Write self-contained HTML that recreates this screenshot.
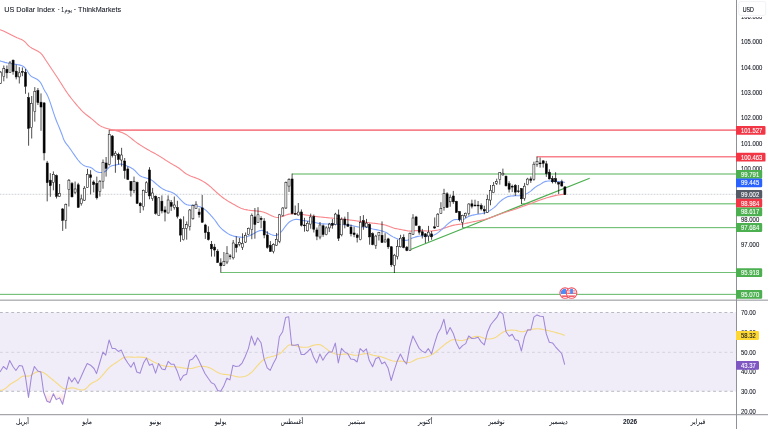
<!DOCTYPE html>
<html lang="ar"><head><meta charset="utf-8"><title>US Dollar Index</title>
<style>
html,body{margin:0;padding:0;background:#fff;}
body{width:768px;height:429px;overflow:hidden;position:relative;font-family:"Liberation Sans","DejaVu Sans",sans-serif;}
svg{position:absolute;left:0;top:0;display:block;}
text{font-family:"Liberation Sans","DejaVu Sans",sans-serif;}
.ax{font-size:6.5px;fill:#131722;stroke:#131722;stroke-width:0.08px;}
.tm{font-size:7.1px;fill:#131722;text-anchor:middle;stroke:#131722;stroke-width:0.06px;}
</style></head><body>
<svg width="768" height="429" viewBox="0 0 768 429">
<defs><linearGradient id="os" gradientUnits="userSpaceOnUse" x1="0" y1="391.3" x2="0" y2="406"><stop offset="0" stop-color="#ffffff"/><stop offset="1" stop-color="#fcd2cf"/></linearGradient><clipPath id="below30"><rect x="0" y="391.3" width="736" height="23"/></clipPath><clipPath id="fl"><circle cx="0" cy="0" r="4.4"/></clipPath></defs>
<rect width="768" height="429" fill="#fff"/>
<g id="rsi">
<rect x="0" y="312.5" width="736" height="78.8" fill="#f0edf9"/>
<polygon clip-path="url(#below30)" fill="url(#os)" points="0,391.3 0,371.9 3.4,366.5 6.7,369.4 9.7,360.5 13.1,366.8 15.9,370.5 19.3,365.5 22.3,366 25.2,375.2 28.5,397.4 31.5,376.1 34.4,366.5 37.8,371 40.8,371.9 43.6,392 47,401.2 50,402.4 53.4,393.7 56.2,399.6 59.6,397.9 62.6,404.3 65.4,392 68.8,376.9 71.8,381.9 74.7,377.8 78,383.6 81,377 84.1,370 87.2,363.5 90.6,365.2 94,368.5 96.5,373.6 99.8,362.5 102.9,352.1 105.7,355.1 109.1,340 112.1,348.4 114.9,348.4 118.3,351.4 121.3,350.1 124.7,358.1 127.8,363 130.9,367.3 133.9,362.3 136.8,372 140.1,373.2 143.5,363.1 146.5,358.1 149.4,365.3 152.4,363.9 155.6,373.2 158.6,363.6 161.9,369 165,369.8 168.2,361.4 171.2,364.3 174,364.3 177,370.7 180.4,380.4 183.4,375.4 186.6,374.3 189.6,360.3 192.7,358.9 195.8,355 198.9,360.6 202,367.3 205.1,373.7 208.2,378.3 211.4,382.7 214.3,384.1 217.7,390.5 220.7,391.3 223.5,386.6 226.9,378.2 229.9,379.9 232.9,365.3 235.8,366.5 239.1,366 242.1,363.1 245,357 248.4,348.6 251.4,336 254.8,345.2 257.6,337.7 261,342.7 264,358.7 267.2,367.9 270.2,370.4 273.2,363.7 276.4,357.8 279.4,336.8 282.6,331.8 285.6,317.6 288.7,316.7 291.7,345.2 294.9,345.2 298.1,344.4 301.2,354.5 304.3,354.5 307.4,351.9 310.5,348.6 313.5,357 316.7,362.9 319.9,354 322.9,360.3 325.9,355.3 328.9,351.9 332.1,351.9 335.3,343.1 338.3,362.9 341.5,348.3 344.5,351.9 347.7,353.6 350.7,359 354.1,359.5 357.1,362 360.1,348.6 363.4,351.6 366.4,348.9 369.2,360.3 372.6,366.7 375.6,358.7 378.8,357.3 381.8,363.7 384.8,362 388,367.9 391.2,380.5 394.2,370.4 397.2,361.2 400.4,354 403.6,360.3 406.6,364 409.7,346.9 412.9,336 415.9,341.9 419.1,348.3 422.1,351.1 425.3,352.8 428.3,348.6 431.5,354 434.5,343.6 437.7,333.5 440.7,328.5 443.9,319.2 446.9,334.3 450.1,327.6 453.3,333.5 456.3,342.7 459.5,348.9 462.5,345.6 465.7,343.6 468.7,336 471.9,338.5 474.9,338.2 478.1,337.3 481.1,341.9 484.3,344.9 487.6,331.7 490.6,325 493.8,320.8 496.8,317.4 499.8,311.6 503,314.1 506,331.7 509.2,336.2 512.2,334.2 515.2,339.7 518.4,340.6 521.4,351 524.6,336.7 527.7,329.7 530.8,330 533.9,317.1 537,314.9 540.1,316.2 543.3,316.6 546.3,333.9 549.3,342.3 552.5,342.9 555.5,346.8 558.5,350.1 561.7,353.5 564.7,364.7 565,391.3"/>
<line x1="0" y1="312.5" x2="736" y2="312.5" stroke="#8c8f99" stroke-width="0.6" stroke-dasharray="2.8 2.86"/>
<line x1="0" y1="352.3" x2="736" y2="352.3" stroke="#bfc0c9" stroke-width="0.6" stroke-dasharray="2.8 2.86"/>
<line x1="0" y1="391.3" x2="736" y2="391.3" stroke="#8c8f99" stroke-width="0.6" stroke-dasharray="2.8 2.86"/>
<polyline fill="none" stroke="#f6da84" stroke-width="1.15" stroke-linejoin="round" points="0,390.3 1,390.3 2,390.11 3,389.76 4,389.27 5,388.7 6,387.99 7,387.14 8,386.22 9,385.31 10,384.5 11,383.8 12,383.16 13,382.57 14,381.99 15,381.41 16,380.81 17,380.17 18,379.43 19,378.64 20,377.85 21,377.14 22,376.56 23,376.19 24,376.06 25,376.05 26,376.09 27,376.13 28,376.13 29,376.02 30,375.68 31,375.17 32,374.56 33,373.94 34,373.38 35,372.83 36,372.3 37,371.87 38,371.58 39,371.49 40,371.56 41,371.75 42,372.05 43,372.44 44,372.89 45,373.48 46,374.2 47,374.99 48,375.84 49,376.71 50,377.55 51,378.37 52,379.19 53,380.01 54,380.84 55,381.66 56,382.48 57,383.3 58,384.15 59,385.04 60,385.92 61,386.77 62,387.54 63,388.19 64,388.67 65,388.95 66,389.01 67,388.9 68,388.68 69,388.41 70,388.14 71,387.92 72,387.8 73,387.84 74,388.01 75,388.27 76,388.6 77,388.94 78,389.26 79,389.52 80,389.73 81,389.88 82,389.96 83,389.94 84,389.78 85,389.33 86,388.56 87,387.59 88,386.52 89,385.45 90,384.48 91,383.72 92,383.1 93,382.57 94,382.09 95,381.61 96,381.1 97,380.5 98,379.78 99,378.94 100,377.99 101,376.96 102,375.87 103,374.74 104,373.6 105,372.42 106,371.19 107,369.98 108,368.83 109,367.79 110,366.89 111,366.08 112,365.33 113,364.63 114,363.97 115,363.33 116,362.7 117,362.06 118,361.39 119,360.66 120,359.9 121,359.16 122,358.48 123,357.9 124,357.46 125,357.2 126,357.08 127,357.01 128,356.99 129,357 130,357.04 131,357.09 132,357.14 133,357.19 134,357.21 135,357.22 136,357.21 137,357.19 138,357.18 139,357.17 140,357.17 141,357.19 142,357.23 143,357.31 144,357.41 145,357.56 146,357.8 147,358.16 148,358.64 149,359.19 150,359.79 151,360.41 152,361.02 153,361.59 154,362.1 155,362.58 156,363.04 157,363.5 158,363.93 159,364.33 160,364.71 161,365.06 162,365.37 163,365.64 164,365.87 165,366.05 166,366.19 167,366.31 168,366.4 169,366.47 170,366.54 171,366.59 172,366.65 173,366.7 174,366.76 175,366.82 176,366.9 177,367 178,367.12 179,367.26 180,367.41 181,367.57 182,367.74 183,367.91 184,368.06 185,368.21 186,368.33 187,368.43 188,368.5 189,368.53 190,368.52 191,368.46 192,368.32 193,368.1 194,367.84 195,367.55 196,367.25 197,366.96 198,366.7 199,366.49 200,366.34 201,366.28 202,366.28 203,366.33 204,366.44 205,366.6 206,366.8 207,367.04 208,367.32 209,367.63 210,368.02 211,368.5 212,369.04 213,369.62 214,370.24 215,370.87 216,371.49 217,372.07 218,372.62 219,373.09 220,373.49 221,373.78 222,374 223,374.17 224,374.31 225,374.43 226,374.53 227,374.63 228,374.75 229,374.88 230,375.06 231,375.27 232,375.5 233,375.75 234,376 235,376.25 236,376.48 237,376.68 238,376.84 239,376.95 240,377 241,376.98 242,376.9 243,376.75 244,376.55 245,376.3 246,375.96 247,375.5 248,374.92 249,374.26 250,373.51 251,372.7 252,371.83 253,370.84 254,369.73 255,368.56 256,367.36 257,366.17 258,365.03 259,363.98 260,362.95 261,361.96 262,361.03 263,360.18 264,359.43 265,358.81 266,358.31 267,357.9 268,357.56 269,357.26 270,357 271,356.76 272,356.52 273,356.26 274,355.99 275,355.69 276,355.38 277,355.02 278,354.6 279,354.1 280,353.5 281,352.76 282,351.82 283,350.76 284,349.66 285,348.6 286,347.59 287,346.57 288,345.68 289,345.06 290,344.82 291,344.78 292,344.85 293,345.02 294,345.25 295,345.5 296,345.76 297,346.04 298,346.34 299,346.62 300,346.88 301,347.07 302,347.19 303,347.25 304,347.28 305,347.29 306,347.27 307,347.21 308,347.07 309,346.82 310,346.48 311,346.11 312,345.74 313,345.41 314,345.16 315,344.95 316,344.78 317,344.66 318,344.6 319,344.63 320,344.75 321,345.1 322,345.65 323,346.33 324,347.09 325,347.86 326,348.59 327,349.33 328,350.09 329,350.82 330,351.5 331,352.1 332,352.58 333,353.03 334,353.43 335,353.78 336,354.08 337,354.3 338,354.44 339,354.5 340,354.49 341,354.43 342,354.35 343,354.25 344,354.15 345,354.06 346,354.01 347,353.99 348,354.04 349,354.16 350,354.34 351,354.55 352,354.78 353,354.99 354,355.16 355,355.27 356,355.3 357,355.24 358,355.11 359,354.92 360,354.7 361,354.46 362,354.22 363,354 364,353.81 365,353.67 366,353.6 367,353.62 368,353.74 369,353.97 370,354.25 371,354.58 372,354.9 373,355.2 374,355.44 375,355.65 376,355.84 377,356.02 378,356.19 379,356.38 380,356.57 381,356.8 382,357.06 383,357.37 384,357.73 385,358.12 386,358.52 387,358.93 388,359.32 389,359.68 390,360.04 391,360.4 392,360.72 393,360.99 394,361.19 395,361.29 396,361.31 397,361.29 398,361.24 399,361.2 400,361.16 401,361.16 402,361.2 403,361.33 404,361.56 405,361.84 406,362.12 407,362.35 408,362.48 409,362.48 410,362.3 411,361.96 412,361.51 413,360.99 414,360.44 415,359.89 416,359.4 417,359 418,358.69 419,358.44 420,358.23 421,358.04 422,357.86 423,357.67 424,357.45 425,357.21 426,356.94 427,356.64 428,356.31 429,355.94 430,355.52 431,355.06 432,354.55 433,353.97 434,353.3 435,352.56 436,351.78 437,350.96 438,350.14 439,349.32 440,348.49 441,347.65 442,346.8 443,345.95 444,345.12 445,344.31 446,343.55 447,342.84 448,342.16 449,341.48 450,340.85 451,340.32 452,339.92 453,339.71 454,339.67 455,339.73 456,339.85 457,340.01 458,340.19 459,340.35 460,340.46 461,340.5 462,340.45 463,340.31 464,340.11 465,339.84 466,339.54 467,339.21 468,338.87 469,338.53 470,338.19 471,337.83 472,337.47 473,337.12 474,336.81 475,336.56 476,336.38 477,336.3 478,336.34 479,336.5 480,336.77 481,337.11 482,337.48 483,337.87 484,338.24 485,338.56 486,338.8 487,338.93 488,338.99 489,338.98 490,338.91 491,338.78 492,338.58 493,338.33 494,338.02 495,337.64 496,337.15 497,336.5 498,335.74 499,334.93 500,334.13 501,333.4 502,332.79 503,332.24 504,331.73 505,331.27 506,330.88 507,330.57 508,330.36 509,330.26 510,330.19 511,330.15 512,330.14 513,330.15 514,330.2 515,330.28 516,330.42 517,330.65 518,330.93 519,331.21 520,331.47 521,331.64 522,331.7 523,331.62 524,331.42 525,331.15 526,330.83 527,330.49 528,330.18 529,329.93 530,329.7 531,329.5 532,329.31 533,329.15 534,329.01 535,328.9 536,328.83 537,328.79 538,328.78 539,328.82 540,328.91 541,329.06 542,329.24 543,329.46 544,329.69 545,329.91 546,330.13 547,330.35 548,330.58 549,330.81 550,331.05 551,331.3 552,331.54 553,331.8 554,332.05 555,332.31 556,332.58 557,332.85 558,333.14 559,333.43 560,333.74 561,334.06 562,334.4 563,334.76 564,335.13 564.7,335.4"/>
<polyline fill="none" stroke="#a188d8" stroke-width="1.05" stroke-linejoin="round" points="0,371.9 3.4,366.5 6.7,369.4 9.7,360.5 13.1,366.8 15.9,370.5 19.3,365.5 22.3,366 25.2,375.2 28.5,397.4 31.5,376.1 34.4,366.5 37.8,371 40.8,371.9 43.6,392 47,401.2 50,402.4 53.4,393.7 56.2,399.6 59.6,397.9 62.6,404.3 65.4,392 68.8,376.9 71.8,381.9 74.7,377.8 78,383.6 81,377 84.1,370 87.2,363.5 90.6,365.2 94,368.5 96.5,373.6 99.8,362.5 102.9,352.1 105.7,355.1 109.1,340 112.1,348.4 114.9,348.4 118.3,351.4 121.3,350.1 124.7,358.1 127.8,363 130.9,367.3 133.9,362.3 136.8,372 140.1,373.2 143.5,363.1 146.5,358.1 149.4,365.3 152.4,363.9 155.6,373.2 158.6,363.6 161.9,369 165,369.8 168.2,361.4 171.2,364.3 174,364.3 177,370.7 180.4,380.4 183.4,375.4 186.6,374.3 189.6,360.3 192.7,358.9 195.8,355 198.9,360.6 202,367.3 205.1,373.7 208.2,378.3 211.4,382.7 214.3,384.1 217.7,390.5 220.7,391.3 223.5,386.6 226.9,378.2 229.9,379.9 232.9,365.3 235.8,366.5 239.1,366 242.1,363.1 245,357 248.4,348.6 251.4,336 254.8,345.2 257.6,337.7 261,342.7 264,358.7 267.2,367.9 270.2,370.4 273.2,363.7 276.4,357.8 279.4,336.8 282.6,331.8 285.6,317.6 288.7,316.7 291.7,345.2 294.9,345.2 298.1,344.4 301.2,354.5 304.3,354.5 307.4,351.9 310.5,348.6 313.5,357 316.7,362.9 319.9,354 322.9,360.3 325.9,355.3 328.9,351.9 332.1,351.9 335.3,343.1 338.3,362.9 341.5,348.3 344.5,351.9 347.7,353.6 350.7,359 354.1,359.5 357.1,362 360.1,348.6 363.4,351.6 366.4,348.9 369.2,360.3 372.6,366.7 375.6,358.7 378.8,357.3 381.8,363.7 384.8,362 388,367.9 391.2,380.5 394.2,370.4 397.2,361.2 400.4,354 403.6,360.3 406.6,364 409.7,346.9 412.9,336 415.9,341.9 419.1,348.3 422.1,351.1 425.3,352.8 428.3,348.6 431.5,354 434.5,343.6 437.7,333.5 440.7,328.5 443.9,319.2 446.9,334.3 450.1,327.6 453.3,333.5 456.3,342.7 459.5,348.9 462.5,345.6 465.7,343.6 468.7,336 471.9,338.5 474.9,338.2 478.1,337.3 481.1,341.9 484.3,344.9 487.6,331.7 490.6,325 493.8,320.8 496.8,317.4 499.8,311.6 503,314.1 506,331.7 509.2,336.2 512.2,334.2 515.2,339.7 518.4,340.6 521.4,351 524.6,336.7 527.7,329.7 530.8,330 533.9,317.1 537,314.9 540.1,316.2 543.3,316.6 546.3,333.9 549.3,342.3 552.5,342.9 555.5,346.8 558.5,350.1 561.7,353.5 564.7,364.7"/>
</g>
<line x1="0" y1="194.3" x2="736" y2="194.3" stroke="#d9dade" stroke-width="0.5"/><line x1="0" y1="194.3" x2="736" y2="194.3" stroke="#b4b7be" stroke-width="0.5" stroke-dasharray="1 2"/>
<g id="levels">
<line x1="109.4" y1="130.15" x2="736" y2="130.15" stroke="#f8828c" stroke-width="1.6"/>
<line x1="536.6" y1="156.8" x2="736" y2="156.8" stroke="#f8828c" stroke-width="1.6"/>
<line x1="292.1" y1="174" x2="736" y2="174" stroke="#8ccd8f" stroke-width="1.6"/>
<line x1="521.4" y1="203.8" x2="736" y2="203.8" stroke="#8ccd8f" stroke-width="1.6"/>
<line x1="462.6" y1="227.67" x2="736" y2="227.67" stroke="#4caf50" stroke-width="0.9"/>
<line x1="220.5" y1="272.5" x2="736" y2="272.5" stroke="#4caf50" stroke-width="0.8"/>
<line x1="0" y1="294.35" x2="736" y2="294.35" stroke="#4caf50" stroke-width="0.9"/>
<line x1="410" y1="249.8" x2="589.7" y2="178.2" stroke="#4caf50" stroke-width="1.2"/>
</g>
<polyline fill="none" stroke="#f8888d" stroke-width="1.1" stroke-linejoin="round" points="0,29.7 1,30.05 2,30.44 3,30.85 4,31.28 5,31.74 6,32.21 7,32.7 8,33.2 9,33.71 10,34.22 11,34.74 12,35.26 13,35.78 14,36.28 15,36.77 16,37.24 17,37.69 18,38.1 19,38.49 20,38.89 21,39.32 22,39.81 23,40.38 24,41.07 25,41.93 26,42.99 27,44.14 28,45.23 29,46.13 30,46.9 31,47.58 32,48.19 33,48.74 34,49.27 35,49.79 36,50.31 37,50.81 38,51.34 39,51.94 40,52.64 41,53.5 42,54.6 43,55.94 44,57.42 45,58.95 46,60.45 47,61.97 48,63.5 49,65.03 50,66.55 51,68.05 52,69.53 53,71.01 54,72.49 55,73.98 56,75.48 57,77 58,78.55 59,80.12 60,81.71 61,83.3 62,84.89 63,86.46 64,88.02 65,89.57 66,91.08 67,92.54 68,93.95 69,95.32 70,96.66 71,97.97 72,99.25 73,100.5 74,101.73 75,102.94 76,104.14 77,105.32 78,106.49 79,107.63 80,108.74 81,109.82 82,110.86 83,111.84 84,112.77 85,113.65 86,114.48 87,115.27 88,116.05 89,116.8 90,117.56 91,118.33 92,119.12 93,119.94 94,120.8 95,121.68 96,122.55 97,123.4 98,124.21 99,124.95 100,125.61 101,126.17 102,126.67 103,127.11 104,127.51 105,127.86 106,128.18 107,128.48 108,128.76 109,129.03 110,129.28 111,129.52 112,129.74 113,129.97 114,130.19 115,130.43 116,130.68 117,130.94 118,131.23 119,131.54 120,131.87 121,132.22 122,132.61 123,133.02 124,133.48 125,133.98 126,134.53 127,135.15 128,135.83 129,136.57 130,137.35 131,138.16 132,138.98 133,139.79 134,140.6 135,141.38 136,142.12 137,142.83 138,143.53 139,144.21 140,144.87 141,145.52 142,146.16 143,146.78 144,147.39 145,148 146,148.59 147,149.17 148,149.74 149,150.3 150,150.86 151,151.4 152,151.95 153,152.49 154,153.03 155,153.58 156,154.14 157,154.71 158,155.3 159,155.9 160,156.51 161,157.14 162,157.77 163,158.41 164,159.05 165,159.7 166,160.34 167,160.98 168,161.61 169,162.24 170,162.86 171,163.47 172,164.06 173,164.63 174,165.19 175,165.75 176,166.32 177,166.91 178,167.53 179,168.2 180,168.94 181,169.73 182,170.57 183,171.41 184,172.24 185,173.02 186,173.72 187,174.33 188,174.87 189,175.35 190,175.78 191,176.18 192,176.55 193,176.91 194,177.27 195,177.63 196,178.01 197,178.43 198,178.86 199,179.31 200,179.79 201,180.29 202,180.81 203,181.37 204,181.96 205,182.58 206,183.25 207,183.95 208,184.69 209,185.48 210,186.32 211,187.21 212,188.13 213,189.07 214,190.02 215,190.96 216,191.88 217,192.78 218,193.65 219,194.5 220,195.34 221,196.16 222,196.95 223,197.72 224,198.46 225,199.16 226,199.83 227,200.48 228,201.1 229,201.7 230,202.28 231,202.85 232,203.41 233,203.97 234,204.52 235,205.09 236,205.65 237,206.21 238,206.75 239,207.26 240,207.73 241,208.16 242,208.53 243,208.86 244,209.16 245,209.42 246,209.66 247,209.87 248,210.06 249,210.22 250,210.36 251,210.48 252,210.58 253,210.67 254,210.76 255,210.84 256,210.92 257,211.01 258,211.12 259,211.24 260,211.39 261,211.56 262,211.77 263,212.01 264,212.3 265,212.65 266,213.08 267,213.55 268,214.04 269,214.52 270,214.97 271,215.43 272,215.89 273,216.33 274,216.73 275,217.06 276,217.31 277,217.46 278,217.5 279,217.39 280,217.18 281,216.89 282,216.55 283,216.2 284,215.86 285,215.49 286,215.11 287,214.73 288,214.39 289,214.12 290,213.93 291,213.84 292,213.78 293,213.75 294,213.73 295,213.74 296,213.77 297,213.81 298,213.86 299,213.92 300,214.04 301,214.21 302,214.38 303,214.55 304,214.7 305,214.86 306,215.01 307,215.17 308,215.32 309,215.48 310,215.63 311,215.78 312,215.93 313,216.07 314,216.21 315,216.34 316,216.47 317,216.6 318,216.72 319,216.84 320,216.95 321,217.06 322,217.17 323,217.27 324,217.37 325,217.47 326,217.57 327,217.67 328,217.76 329,217.86 330,217.95 331,218.04 332,218.13 333,218.23 334,218.32 335,218.41 336,218.5 337,218.59 338,218.68 339,218.77 340,218.86 341,218.96 342,219.05 343,219.15 344,219.25 345,219.36 346,219.47 347,219.58 348,219.7 349,219.83 350,219.95 351,220.09 352,220.22 353,220.36 354,220.51 355,220.65 356,220.8 357,220.95 358,221.1 359,221.25 360,221.4 361,221.55 362,221.7 363,221.86 364,222.01 365,222.16 366,222.31 367,222.45 368,222.59 369,222.73 370,222.85 371,222.97 372,223.09 373,223.2 374,223.31 375,223.42 376,223.54 377,223.66 378,223.78 379,223.92 380,224.07 381,224.23 382,224.41 383,224.6 384,224.81 385,225.05 386,225.31 387,225.62 388,225.96 389,226.33 390,226.72 391,227.1 392,227.46 393,227.8 394,228.1 395,228.36 396,228.59 397,228.81 398,229.01 399,229.2 400,229.38 401,229.56 402,229.74 403,229.94 404,230.14 405,230.35 406,230.55 407,230.74 408,230.9 409,231.01 410,231.09 411,231.1 412,231.04 413,230.94 414,230.82 415,230.71 416,230.62 417,230.58 418,230.57 419,230.58 420,230.61 421,230.65 422,230.7 423,230.75 424,230.81 425,230.87 426,230.92 427,230.96 428,230.99 429,231 430,230.99 431,230.94 432,230.87 433,230.77 434,230.65 435,230.51 436,230.35 437,230.17 438,229.98 439,229.74 440,229.47 441,229.18 442,228.86 443,228.53 444,228.2 445,227.86 446,227.54 447,227.21 448,226.87 449,226.53 450,226.21 451,225.89 452,225.6 453,225.34 454,225.12 455,224.93 456,224.78 457,224.64 458,224.52 459,224.4 460,224.28 461,224.16 462,224.03 463,223.88 464,223.71 465,223.53 466,223.32 467,223.11 468,222.89 469,222.67 470,222.44 471,222.22 472,222.01 473,221.8 474,221.6 475,221.42 476,221.24 477,221.07 478,220.89 479,220.71 480,220.53 481,220.34 482,220.13 483,219.91 484,219.68 485,219.41 486,219.13 487,218.83 488,218.51 489,218.18 490,217.83 491,217.48 492,217.12 493,216.76 494,216.4 495,216.04 496,215.67 497,215.3 498,214.92 499,214.55 500,214.18 501,213.81 502,213.45 503,213.09 504,212.74 505,212.4 506,212.07 507,211.76 508,211.45 509,211.14 510,210.84 511,210.53 512,210.22 513,209.91 514,209.59 515,209.25 516,208.9 517,208.53 518,208.15 519,207.76 520,207.37 521,207 522,206.65 523,206.31 524,205.98 525,205.64 526,205.3 527,204.94 528,204.57 529,204.19 530,203.81 531,203.42 532,203.03 533,202.64 534,202.25 535,201.87 536,201.5 537,201.13 538,200.77 539,200.42 540,200.07 541,199.73 542,199.39 543,199.06 544,198.73 545,198.41 546,198.09 547,197.78 548,197.47 549,197.18 550,196.9 551,196.63 552,196.36 553,196.1 554,195.85 555,195.61 556,195.39 557,195.19 558,195.01 559,194.86 560,194.72 561,194.6 562,194.49 563,194.41 564,194.34 565,194.3"/>
<polyline fill="none" stroke="#80a4fb" stroke-width="1.1" stroke-linejoin="round" points="0,60.8 1,61.15 2,61.48 3,61.8 4,62.1 5,62.38 6,62.63 7,62.87 8,63.08 9,63.27 10,63.45 11,63.62 12,63.77 13,63.92 14,64.07 15,64.22 16,64.37 17,64.53 18,64.7 19,64.88 20,65.1 21,65.4 22,65.79 23,66.29 24,66.97 25,67.98 26,69.22 27,70.58 28,72.17 29,73.8 30,75.18 31,76.13 32,76.82 33,77.35 34,77.79 35,78.21 36,78.7 37,79.29 38,79.99 39,80.87 40,81.97 41,83.34 42,85.17 43,87.37 44,89.55 45,91.32 46,92.79 47,94.48 48,96.62 49,99.13 50,101.94 51,104.93 52,108.03 53,111.14 54,114.18 55,117.05 56,119.71 57,122.22 58,124.65 59,127.04 60,129.45 61,131.94 62,134.57 63,137.43 64,140 65,141.91 66,143.43 67,144.72 68,145.94 69,147.23 70,148.6 71,150.03 72,151.48 73,152.94 74,154.39 75,155.81 76,157.23 77,158.63 78,159.97 79,161.23 80,162.36 81,163.33 82,164.14 83,164.85 84,165.45 85,165.95 86,166.34 87,166.62 88,166.82 89,167.02 90,167.26 91,167.61 92,168.17 93,168.95 94,169.82 95,170.67 96,171.35 97,171.79 98,172.13 99,172.35 100,172.48 101,172.5 102,172.43 103,172.26 104,171.95 105,171.49 106,170.82 107,169.76 108,168.52 109,167.38 110,166.61 111,166.12 112,165.77 113,165.53 114,165.33 115,165.14 116,164.91 117,164.67 118,164.44 119,164.25 120,164.13 121,164.1 122,164.2 123,164.43 124,164.76 125,165.16 126,165.58 127,166 128,166.41 129,166.85 130,167.32 131,167.83 132,168.41 133,169.06 134,169.8 135,170.7 136,171.75 137,172.86 138,173.95 139,174.93 140,175.7 141,176.27 142,176.72 143,177.08 144,177.38 145,177.64 146,177.91 147,178.2 148,178.52 149,178.87 150,179.28 151,179.77 152,180.38 153,181.14 154,181.99 155,182.88 156,183.76 157,184.59 158,185.41 159,186.21 160,186.99 161,187.73 162,188.42 163,189.05 164,189.61 165,190.09 166,190.49 167,190.83 168,191.14 169,191.43 170,191.73 171,192.06 172,192.44 173,192.9 174,193.46 175,194.16 176,194.97 177,195.86 178,196.89 179,198 180,199.12 181,200.2 182,201.18 183,202.13 184,203.02 185,203.78 186,204.36 187,204.72 188,204.95 189,205.09 190,205.19 191,205.25 192,205.3 193,205.37 194,205.48 195,205.61 196,205.78 197,205.98 198,206.22 199,206.51 200,206.86 201,207.27 202,207.75 203,208.3 204,208.92 205,209.6 206,210.38 207,211.29 208,212.28 209,213.35 210,214.45 211,215.58 212,216.7 213,217.82 214,219 215,220.26 216,221.66 217,223.14 218,224.58 219,225.9 220,227.07 221,228.13 222,229.1 223,229.99 224,230.8 225,231.56 226,232.29 227,232.98 228,233.61 229,234.18 230,234.69 231,235.12 232,235.51 233,235.85 234,236.15 235,236.41 236,236.61 237,236.75 238,236.88 239,236.99 240,237.08 241,237.15 242,237.18 243,237.19 244,237.17 245,237.1 246,236.95 247,236.69 248,236.34 249,235.91 250,235.44 251,234.93 252,234.41 253,233.9 254,233.4 255,232.86 256,232.32 257,231.79 258,231.31 259,230.9 260,230.59 261,230.42 262,230.41 263,230.62 264,231 265,231.5 266,232.05 267,232.6 268,233.09 269,233.57 270,234.03 271,234.46 272,234.84 273,235.15 274,235.35 275,235.44 276,235.4 277,235.13 278,234.59 279,233.85 280,232.97 281,232 282,230.89 283,229.61 284,228.24 285,226.89 286,225.63 287,224.4 288,223.25 289,222.28 290,221.57 291,220.98 292,220.48 293,220.07 294,219.76 295,219.55 296,219.42 297,219.4 298,219.46 299,219.6 300,219.78 301,219.99 302,220.21 303,220.42 304,220.6 305,220.74 306,220.87 307,220.99 308,221.12 309,221.26 310,221.44 311,221.63 312,221.85 313,222.08 314,222.31 315,222.55 316,222.78 317,223 318,223.21 319,223.39 320,223.55 321,223.68 322,223.77 323,223.85 324,223.91 325,223.96 326,224 327,224.03 328,224.06 329,224.08 330,224.11 331,224.14 332,224.17 333,224.19 334,224.22 335,224.25 336,224.29 337,224.32 338,224.36 339,224.4 340,224.44 341,224.49 342,224.54 343,224.6 344,224.67 345,224.74 346,224.83 347,224.94 348,225.05 349,225.17 350,225.31 351,225.46 352,225.62 353,225.8 354,226 355,226.24 356,226.48 357,226.71 358,226.9 359,227.04 360,227.1 361,227.09 362,227.06 363,227.02 364,226.99 365,227.02 366,227.12 367,227.3 368,227.54 369,227.82 370,228.12 371,228.43 372,228.73 373,229 374,229.24 375,229.46 376,229.66 377,229.86 378,230.06 379,230.27 380,230.49 381,230.73 382,231 383,231.3 384,231.65 385,232.04 386,232.49 387,233.05 388,233.68 389,234.36 390,235.06 391,235.72 392,236.33 393,236.87 394,237.37 395,237.84 396,238.27 397,238.64 398,238.97 399,239.26 400,239.53 401,239.78 402,240 403,240.18 404,240.3 405,240.35 406,240.34 407,240.23 408,239.95 409,239.55 410,239.08 411,238.61 412,238.18 413,237.81 414,237.47 415,237.15 416,236.86 417,236.6 418,236.38 419,236.2 420,236.06 421,235.97 422,235.91 423,235.88 424,235.86 425,235.85 426,235.85 427,235.84 428,235.81 429,235.77 430,235.7 431,235.59 432,235.44 433,235.25 434,234.96 435,234.54 436,233.99 437,233.34 438,232.62 439,231.84 440,231.02 441,230.19 442,229.37 443,228.49 444,227.55 445,226.6 446,225.64 447,224.69 448,223.79 449,222.95 450,222.2 451,221.49 452,220.82 453,220.25 454,219.82 455,219.6 456,219.54 457,219.54 458,219.58 459,219.63 460,219.68 461,219.69 462,219.65 463,219.51 464,219.16 465,218.63 466,218.02 467,217.38 468,216.79 469,216.32 470,215.94 471,215.61 472,215.33 473,215.09 474,214.88 475,214.69 476,214.51 477,214.33 478,214.16 479,214 480,213.84 481,213.68 482,213.5 483,213.29 484,213.06 485,212.79 486,212.46 487,212.07 488,211.6 489,211.07 490,210.48 491,209.83 492,209.13 493,208.38 494,207.6 495,206.74 496,205.79 497,204.77 498,203.73 499,202.7 500,201.72 501,200.8 502,200 503,199.28 504,198.61 505,197.99 506,197.44 507,196.98 508,196.6 509,196.34 510,196.17 511,196.04 512,195.95 513,195.89 514,195.85 515,195.82 516,195.79 517,195.77 518,195.73 519,195.68 520,195.6 521,195.49 522,195.31 523,195.07 524,194.76 525,194.38 526,193.94 527,193.44 528,192.89 529,192.29 530,191.62 531,190.84 532,189.98 533,189.09 534,188.22 535,187.41 536,186.7 537,186.1 538,185.57 539,185.06 540,184.52 541,183.89 542,183.18 543,182.51 544,181.96 545,181.61 546,181.36 547,181.18 548,181.07 549,181.01 550,181 551,181.02 552,181.05 553,181.11 554,181.17 555,181.24 556,181.32 557,181.4 558,181.49 559,181.59 560,181.7 561,181.82 562,181.95 563,182.09 564,182.24 565,182.4"/>
<g id="wicks" stroke="#000" stroke-width="0.7"><line x1="0.7" y1="71" x2="0.7" y2="72.2"/><line x1="0.7" y1="83.2" x2="0.7" y2="84"/><line x1="3.8" y1="65.5" x2="3.8" y2="68.7"/><line x1="3.8" y1="76.6" x2="3.8" y2="81.3"/><line x1="6.9" y1="65.5" x2="6.9" y2="69.3"/><line x1="6.9" y1="72.8" x2="6.9" y2="78.4"/><line x1="10" y1="61.1" x2="10" y2="63"/><line x1="10" y1="72.5" x2="10" y2="73"/><line x1="13.1" y1="59.5" x2="13.1" y2="60.2"/><line x1="13.1" y1="71.5" x2="13.1" y2="74.7"/><line x1="16.2" y1="64.6" x2="16.2" y2="71.2"/><line x1="16.2" y1="76.9" x2="16.2" y2="79.4"/><line x1="19.3" y1="67.1" x2="19.3" y2="72.8"/><line x1="19.3" y1="76.9" x2="19.3" y2="83.5"/><line x1="22.4" y1="67.4" x2="22.4" y2="71.5"/><line x1="22.4" y1="72.3" x2="22.4" y2="76.2"/><line x1="25.5" y1="69" x2="25.5" y2="72.2"/><line x1="25.5" y1="86.3" x2="25.5" y2="93.8"/><line x1="28.6" y1="92.6" x2="28.6" y2="97.6"/><line x1="28.6" y1="128.3" x2="28.6" y2="145.7"/><line x1="31.7" y1="96" x2="31.7" y2="103.5"/><line x1="31.7" y1="127.5" x2="31.7" y2="138.5"/><line x1="34.8" y1="87.1" x2="34.8" y2="91.3"/><line x1="34.8" y1="111.5" x2="34.8" y2="121.6"/><line x1="37.9" y1="88" x2="37.9" y2="90.5"/><line x1="37.9" y1="102.6" x2="37.9" y2="105"/><line x1="41" y1="93.4" x2="41" y2="102.2"/><line x1="41" y1="107" x2="41" y2="130.8"/><line x1="44.1" y1="102" x2="44.1" y2="103"/><line x1="44.1" y1="152.9" x2="44.1" y2="160.4"/><line x1="47.2" y1="160.9" x2="47.2" y2="163"/><line x1="47.2" y1="182.7" x2="47.2" y2="201.4"/><line x1="50.3" y1="173.1" x2="50.3" y2="180.2"/><line x1="50.3" y1="185.7" x2="50.3" y2="196.8"/><line x1="53.4" y1="171.4" x2="53.4" y2="174.4"/><line x1="53.4" y1="182.3" x2="53.4" y2="190.3"/><line x1="56.5" y1="174.5" x2="56.5" y2="175.6"/><line x1="56.5" y1="196.4" x2="56.5" y2="198.5"/><line x1="59.6" y1="184" x2="59.6" y2="193.5"/><line x1="59.6" y1="196.4" x2="59.6" y2="197"/><line x1="62.7" y1="208" x2="62.7" y2="209"/><line x1="62.7" y1="220.5" x2="62.7" y2="230.9"/><line x1="65.8" y1="203.5" x2="65.8" y2="204.4"/><line x1="65.8" y1="220.4" x2="65.8" y2="228.8"/><line x1="68.9" y1="179" x2="68.9" y2="180.2"/><line x1="68.9" y1="189.4" x2="68.9" y2="206.5"/><line x1="72" y1="182" x2="72" y2="183.6"/><line x1="72" y1="196.8" x2="72" y2="197.5"/><line x1="75.1" y1="181.5" x2="75.1" y2="189"/><line x1="75.1" y1="192.2" x2="75.1" y2="194"/><line x1="78.2" y1="182.8" x2="78.2" y2="184.8"/><line x1="78.2" y1="207.3" x2="78.2" y2="208"/><line x1="81.3" y1="194.7" x2="81.3" y2="198.9"/><line x1="81.3" y1="203.5" x2="81.3" y2="205.6"/><line x1="84.4" y1="186.1" x2="84.4" y2="188.2"/><line x1="84.4" y1="200.2" x2="84.4" y2="201"/><line x1="87.5" y1="168.9" x2="87.5" y2="174.4"/><line x1="87.5" y1="187.4" x2="87.5" y2="188"/><line x1="90.6" y1="170.2" x2="90.6" y2="174.8"/><line x1="90.6" y1="177.5" x2="90.6" y2="194.4"/><line x1="93.7" y1="180.3" x2="93.7" y2="182"/><line x1="93.7" y1="184.6" x2="93.7" y2="192.4"/><line x1="96.8" y1="176.6" x2="96.8" y2="183.3"/><line x1="96.8" y1="197.8" x2="96.8" y2="199.5"/><line x1="99.9" y1="180" x2="99.9" y2="181.2"/><line x1="99.9" y1="191.5" x2="99.9" y2="196.6"/><line x1="103" y1="159.5" x2="103" y2="162.3"/><line x1="103" y1="181.2" x2="103" y2="188.7"/><line x1="106.1" y1="157" x2="106.1" y2="163"/><line x1="106.1" y1="168.3" x2="106.1" y2="176.6"/><line x1="109.2" y1="129.8" x2="109.2" y2="134.4"/><line x1="109.2" y1="164.4" x2="109.2" y2="165.5"/><line x1="112.3" y1="135" x2="112.3" y2="136.1"/><line x1="112.3" y1="155.7" x2="112.3" y2="157.5"/><line x1="115.4" y1="151" x2="115.4" y2="153.2"/><line x1="115.4" y1="155.4" x2="115.4" y2="172.8"/><line x1="118.5" y1="152.7" x2="118.5" y2="154.3"/><line x1="118.5" y1="159.5" x2="118.5" y2="164.5"/><line x1="121.6" y1="147.8" x2="121.6" y2="155"/><line x1="121.6" y1="160" x2="121.6" y2="166.5"/><line x1="124.7" y1="158" x2="124.7" y2="161"/><line x1="124.7" y1="170.7" x2="124.7" y2="178.7"/><line x1="127.8" y1="166.5" x2="127.8" y2="169"/><line x1="127.8" y1="179.5" x2="127.8" y2="180"/><line x1="130.9" y1="181" x2="130.9" y2="181.6"/><line x1="130.9" y1="190.5" x2="130.9" y2="196.6"/><line x1="134" y1="176.6" x2="134" y2="181.6"/><line x1="134" y1="190.4" x2="134" y2="193.2"/><line x1="137.1" y1="181.5" x2="137.1" y2="182.4"/><line x1="137.1" y1="203.3" x2="137.1" y2="204"/><line x1="140.2" y1="202" x2="140.2" y2="203.3"/><line x1="140.2" y1="205.8" x2="140.2" y2="213"/><line x1="143.3" y1="189.5" x2="143.3" y2="190.3"/><line x1="143.3" y1="206.6" x2="143.3" y2="210.4"/><line x1="146.4" y1="181.2" x2="146.4" y2="182.8"/><line x1="146.4" y1="192.4" x2="146.4" y2="193"/><line x1="149.5" y1="167.2" x2="149.5" y2="170"/><line x1="149.5" y1="195.9" x2="149.5" y2="199.3"/><line x1="152.6" y1="187.9" x2="152.6" y2="193"/><line x1="152.6" y1="198.6" x2="152.6" y2="200.8"/><line x1="155.7" y1="195.5" x2="155.7" y2="196.2"/><line x1="155.7" y1="213.4" x2="155.7" y2="214.7"/><line x1="158.8" y1="197" x2="158.8" y2="197.8"/><line x1="158.8" y1="215.5" x2="158.8" y2="216"/><line x1="161.9" y1="195.4" x2="161.9" y2="201.2"/><line x1="161.9" y1="210.9" x2="161.9" y2="213.4"/><line x1="165" y1="206.3" x2="165" y2="210"/><line x1="165" y1="212.1" x2="165" y2="221.4"/><line x1="168.1" y1="195.4" x2="168.1" y2="200"/><line x1="168.1" y1="213" x2="168.1" y2="213.5"/><line x1="171.2" y1="200" x2="171.2" y2="202.5"/><line x1="171.2" y1="206.3" x2="171.2" y2="210.9"/><line x1="174.3" y1="196.5" x2="174.3" y2="205"/><line x1="174.3" y1="207.5" x2="174.3" y2="209.6"/><line x1="177.4" y1="200.8" x2="177.4" y2="207.5"/><line x1="177.4" y1="216.3" x2="177.4" y2="218.4"/><line x1="180.5" y1="218.4" x2="180.5" y2="219.7"/><line x1="180.5" y1="235.1" x2="180.5" y2="241.8"/><line x1="183.6" y1="216.3" x2="183.6" y2="228.4"/><line x1="183.6" y1="239.7" x2="183.6" y2="240.5"/><line x1="186.7" y1="221.4" x2="186.7" y2="224.6"/><line x1="186.7" y1="228.4" x2="186.7" y2="239.7"/><line x1="189.8" y1="209" x2="189.8" y2="210"/><line x1="189.8" y1="226.4" x2="189.8" y2="230.5"/><line x1="192.9" y1="204.5" x2="192.9" y2="205.4"/><line x1="192.9" y1="218.8" x2="192.9" y2="219.7"/><line x1="196" y1="201.2" x2="196" y2="204.2"/><line x1="196" y1="208.4" x2="196" y2="209"/><line x1="199.1" y1="208.4" x2="199.1" y2="212.1"/><line x1="199.1" y1="214.7" x2="199.1" y2="217.6"/><line x1="202.2" y1="194.9" x2="202.2" y2="207.9"/><line x1="202.2" y1="222.2" x2="202.2" y2="223"/><line x1="205.3" y1="223.8" x2="205.3" y2="225"/><line x1="205.3" y1="232.6" x2="205.3" y2="238.9"/><line x1="208.4" y1="226.3" x2="208.4" y2="232.2"/><line x1="208.4" y1="239.7" x2="208.4" y2="240.5"/><line x1="211.5" y1="241" x2="211.5" y2="244.3"/><line x1="211.5" y1="248.8" x2="211.5" y2="256.6"/><line x1="214.6" y1="243.9" x2="214.6" y2="247.1"/><line x1="214.6" y1="250" x2="214.6" y2="256.6"/><line x1="217.7" y1="249.2" x2="217.7" y2="251.2"/><line x1="217.7" y1="262.5" x2="217.7" y2="263"/><line x1="220.8" y1="258.3" x2="220.8" y2="262.9"/><line x1="220.8" y1="265.8" x2="220.8" y2="272.5"/><line x1="223.9" y1="252" x2="223.9" y2="261.6"/><line x1="223.9" y1="265.4" x2="223.9" y2="266"/><line x1="227" y1="246.1" x2="227" y2="253.2"/><line x1="227" y1="262" x2="227" y2="264.1"/><line x1="230.1" y1="254.1" x2="230.1" y2="255.9"/><line x1="230.1" y1="256.7" x2="230.1" y2="259.5"/><line x1="233.2" y1="240" x2="233.2" y2="243"/><line x1="233.2" y1="257.8" x2="233.2" y2="259.5"/><line x1="236.3" y1="236.2" x2="236.3" y2="244.6"/><line x1="236.3" y1="247.7" x2="236.3" y2="252.4"/><line x1="239.4" y1="237.9" x2="239.4" y2="242.5"/><line x1="239.4" y1="244.2" x2="239.4" y2="246.3"/><line x1="242.5" y1="233.3" x2="242.5" y2="243.4"/><line x1="242.5" y1="247.2" x2="242.5" y2="249.9"/><line x1="245.6" y1="232.5" x2="245.6" y2="235.4"/><line x1="245.6" y1="242.1" x2="245.6" y2="243"/><line x1="248.7" y1="227.5" x2="248.7" y2="228.3"/><line x1="248.7" y1="234.6" x2="248.7" y2="235.4"/><line x1="251.8" y1="213.5" x2="251.8" y2="215.3"/><line x1="251.8" y1="229.5" x2="251.8" y2="239.2"/><line x1="254.9" y1="208" x2="254.9" y2="216.9"/><line x1="254.9" y1="224.5" x2="254.9" y2="238.7"/><line x1="258" y1="207.2" x2="258" y2="214.8"/><line x1="258" y1="222.4" x2="258" y2="223"/><line x1="261.1" y1="216.2" x2="261.1" y2="218.3"/><line x1="261.1" y1="219.6" x2="261.1" y2="228.3"/><line x1="264.2" y1="218.1" x2="264.2" y2="221.1"/><line x1="264.2" y1="235" x2="264.2" y2="238.3"/><line x1="267.3" y1="231.2" x2="267.3" y2="235"/><line x1="267.3" y1="247.5" x2="267.3" y2="248.7"/><line x1="270.4" y1="241.1" x2="270.4" y2="245.2"/><line x1="270.4" y1="251.5" x2="270.4" y2="252"/><line x1="273.5" y1="243.3" x2="273.5" y2="244.6"/><line x1="273.5" y1="251.5" x2="273.5" y2="253.4"/><line x1="276.6" y1="233" x2="276.6" y2="239.3"/><line x1="276.6" y1="245.2" x2="276.6" y2="246"/><line x1="279.7" y1="213.9" x2="279.7" y2="214.8"/><line x1="279.7" y1="241.3" x2="279.7" y2="243.2"/><line x1="282.8" y1="207.2" x2="282.8" y2="208"/><line x1="282.8" y1="215.6" x2="282.8" y2="216.5"/><line x1="285.9" y1="181.5" x2="285.9" y2="182.4"/><line x1="285.9" y1="208" x2="285.9" y2="209"/><line x1="289" y1="178.2" x2="289" y2="179.4"/><line x1="289" y1="186.1" x2="289" y2="192"/><line x1="292.1" y1="173.6" x2="292.1" y2="179"/><line x1="292.1" y1="213.5" x2="292.1" y2="214.5"/><line x1="295.2" y1="205.5" x2="295.2" y2="213.5"/><line x1="295.2" y1="214.3" x2="295.2" y2="215"/><line x1="298.3" y1="203" x2="298.3" y2="212.1"/><line x1="298.3" y1="215" x2="298.3" y2="215.5"/><line x1="301.4" y1="209.4" x2="301.4" y2="212"/><line x1="301.4" y1="225.2" x2="301.4" y2="226.5"/><line x1="304.5" y1="217.8" x2="304.5" y2="225"/><line x1="304.5" y1="225.8" x2="304.5" y2="231.7"/><line x1="307.6" y1="221.2" x2="307.6" y2="223.3"/><line x1="307.6" y1="230.8" x2="307.6" y2="231.5"/><line x1="310.7" y1="213.6" x2="310.7" y2="217"/><line x1="310.7" y1="224.1" x2="310.7" y2="228.7"/><line x1="313.8" y1="214.5" x2="313.8" y2="216.6"/><line x1="313.8" y1="229.2" x2="313.8" y2="232.5"/><line x1="316.9" y1="227.5" x2="316.9" y2="230"/><line x1="316.9" y1="236.2" x2="316.9" y2="240.2"/><line x1="320" y1="222" x2="320" y2="225"/><line x1="320" y1="237" x2="320" y2="239.3"/><line x1="323.1" y1="224.5" x2="323.1" y2="225.8"/><line x1="323.1" y1="234.6" x2="323.1" y2="236.8"/><line x1="326.2" y1="226.2" x2="326.2" y2="227.9"/><line x1="326.2" y1="234.6" x2="326.2" y2="235.3"/><line x1="329.3" y1="222.9" x2="329.3" y2="224.1"/><line x1="329.3" y1="227.9" x2="329.3" y2="232.1"/><line x1="332.4" y1="219.1" x2="332.4" y2="223.3"/><line x1="332.4" y1="225.4" x2="332.4" y2="228.7"/><line x1="335.5" y1="212.8" x2="335.5" y2="214.1"/><line x1="335.5" y1="224.6" x2="335.5" y2="225.3"/><line x1="338.6" y1="209.5" x2="338.6" y2="214.9"/><line x1="338.6" y1="238.2" x2="338.6" y2="241"/><line x1="341.7" y1="217.4" x2="341.7" y2="219.5"/><line x1="341.7" y1="234.8" x2="341.7" y2="236.4"/><line x1="344.8" y1="216.6" x2="344.8" y2="219.1"/><line x1="344.8" y1="224.6" x2="344.8" y2="228.3"/><line x1="347.9" y1="212" x2="347.9" y2="224.1"/><line x1="347.9" y1="226.2" x2="347.9" y2="227"/><line x1="351" y1="224.5" x2="351" y2="227.1"/><line x1="351" y1="233.8" x2="351" y2="236.4"/><line x1="354.1" y1="226.7" x2="354.1" y2="233"/><line x1="354.1" y1="234.7" x2="354.1" y2="237.2"/><line x1="357.2" y1="233.3" x2="357.2" y2="235"/><line x1="357.2" y1="237.7" x2="357.2" y2="242.5"/><line x1="360.3" y1="216" x2="360.3" y2="222.3"/><line x1="360.3" y1="239.6" x2="360.3" y2="240.3"/><line x1="363.4" y1="215.1" x2="363.4" y2="220.6"/><line x1="363.4" y1="226.5" x2="363.4" y2="229.8"/><line x1="366.5" y1="218.9" x2="366.5" y2="223.1"/><line x1="366.5" y1="226.9" x2="366.5" y2="227.7"/><line x1="369.6" y1="223.5" x2="369.6" y2="224.4"/><line x1="369.6" y1="236.9" x2="369.6" y2="244.7"/><line x1="372.7" y1="232.3" x2="372.7" y2="233.6"/><line x1="372.7" y1="244.7" x2="372.7" y2="245.3"/><line x1="375.8" y1="234.8" x2="375.8" y2="236.1"/><line x1="375.8" y1="245.5" x2="375.8" y2="248.9"/><line x1="378.9" y1="231.9" x2="378.9" y2="232.3"/><line x1="378.9" y1="235.7" x2="378.9" y2="240.5"/><line x1="382" y1="221.4" x2="382" y2="235.3"/><line x1="382" y1="242.5" x2="382" y2="243"/><line x1="385.1" y1="233.2" x2="385.1" y2="239.9"/><line x1="385.1" y1="242" x2="385.1" y2="242.5"/><line x1="388.2" y1="237.8" x2="388.2" y2="238.9"/><line x1="388.2" y1="246.8" x2="388.2" y2="248.9"/><line x1="391.3" y1="246" x2="391.3" y2="246.8"/><line x1="391.3" y1="264.8" x2="391.3" y2="266.9"/><line x1="394.4" y1="253.9" x2="394.4" y2="255.2"/><line x1="394.4" y1="265.3" x2="394.4" y2="273"/><line x1="397.5" y1="239.7" x2="397.5" y2="246.4"/><line x1="397.5" y1="256.5" x2="397.5" y2="259.4"/><line x1="400.6" y1="234.8" x2="400.6" y2="238.2"/><line x1="400.6" y1="246.8" x2="400.6" y2="247.5"/><line x1="403.7" y1="234.4" x2="403.7" y2="237.4"/><line x1="403.7" y1="247.6" x2="403.7" y2="248.3"/><line x1="406.8" y1="246" x2="406.8" y2="247.2"/><line x1="406.8" y1="250.6" x2="406.8" y2="251.2"/><line x1="409.9" y1="232.5" x2="409.9" y2="233.4"/><line x1="409.9" y1="250.2" x2="409.9" y2="251"/><line x1="413" y1="214.2" x2="413" y2="218"/><line x1="413" y1="234.2" x2="413" y2="235"/><line x1="416.1" y1="215.9" x2="416.1" y2="217"/><line x1="416.1" y1="225.2" x2="416.1" y2="226"/><line x1="419.2" y1="225.5" x2="419.2" y2="226.4"/><line x1="419.2" y1="232.2" x2="419.2" y2="234.7"/><line x1="422.3" y1="228.9" x2="422.3" y2="231.8"/><line x1="422.3" y1="235.2" x2="422.3" y2="238.5"/><line x1="425.4" y1="233" x2="425.4" y2="233.9"/><line x1="425.4" y1="236.8" x2="425.4" y2="243.1"/><line x1="428.5" y1="225.9" x2="428.5" y2="232.2"/><line x1="428.5" y1="236" x2="428.5" y2="241.5"/><line x1="431.6" y1="231" x2="431.6" y2="233.9"/><line x1="431.6" y1="236.8" x2="431.6" y2="239.8"/><line x1="434.7" y1="217.5" x2="434.7" y2="226.8"/><line x1="434.7" y1="228" x2="434.7" y2="228.9"/><line x1="437.8" y1="213" x2="437.8" y2="214.2"/><line x1="437.8" y1="226.4" x2="437.8" y2="227"/><line x1="440.9" y1="202.2" x2="440.9" y2="208.5"/><line x1="440.9" y1="213.5" x2="440.9" y2="214"/><line x1="444" y1="188.8" x2="444" y2="193.4"/><line x1="444" y1="207.3" x2="444" y2="210.6"/><line x1="447.1" y1="192.2" x2="447.1" y2="193.8"/><line x1="447.1" y1="207.3" x2="447.1" y2="208"/><line x1="450.2" y1="194.7" x2="450.2" y2="197.2"/><line x1="450.2" y1="201.8" x2="450.2" y2="206.8"/><line x1="453.3" y1="190.9" x2="453.3" y2="196"/><line x1="453.3" y1="201.8" x2="453.3" y2="203.9"/><line x1="456.4" y1="200.8" x2="456.4" y2="201.4"/><line x1="456.4" y1="212.4" x2="456.4" y2="213"/><line x1="459.5" y1="211" x2="459.5" y2="211.6"/><line x1="459.5" y1="219.6" x2="459.5" y2="221.4"/><line x1="462.6" y1="214.7" x2="462.6" y2="215.5"/><line x1="462.6" y1="222.3" x2="462.6" y2="227.6"/><line x1="465.7" y1="212.5" x2="465.7" y2="213.3"/><line x1="465.7" y1="215.9" x2="465.7" y2="218"/><line x1="468.8" y1="203.3" x2="468.8" y2="204"/><line x1="468.8" y1="213.5" x2="468.8" y2="215.5"/><line x1="471.9" y1="199.7" x2="471.9" y2="203.8"/><line x1="471.9" y1="206.2" x2="471.9" y2="208.4"/><line x1="475" y1="199.7" x2="475" y2="205.1"/><line x1="475" y1="205.9" x2="475" y2="206.3"/><line x1="478.1" y1="201" x2="478.1" y2="205.1"/><line x1="478.1" y1="205.9" x2="478.1" y2="213.7"/><line x1="481.2" y1="203.4" x2="481.2" y2="205.5"/><line x1="481.2" y1="208.9" x2="481.2" y2="210.5"/><line x1="484.3" y1="205.7" x2="484.3" y2="209.5"/><line x1="484.3" y1="211" x2="484.3" y2="214.3"/><line x1="487.4" y1="194.8" x2="487.4" y2="199.3"/><line x1="487.4" y1="212.3" x2="487.4" y2="213"/><line x1="490.5" y1="185" x2="490.5" y2="190.4"/><line x1="490.5" y1="200.1" x2="490.5" y2="205.3"/><line x1="493.6" y1="182" x2="493.6" y2="185.4"/><line x1="493.6" y1="192.5" x2="493.6" y2="193.2"/><line x1="496.7" y1="178.7" x2="496.7" y2="181.6"/><line x1="496.7" y1="183.3" x2="496.7" y2="185"/><line x1="499.8" y1="172" x2="499.8" y2="172.4"/><line x1="499.8" y1="179.5" x2="499.8" y2="184.6"/><line x1="502.9" y1="168.6" x2="502.9" y2="173.2"/><line x1="502.9" y1="174.9" x2="502.9" y2="175.7"/><line x1="506" y1="175.5" x2="506" y2="176.2"/><line x1="506" y1="185.8" x2="506" y2="186.5"/><line x1="509.1" y1="181.2" x2="509.1" y2="183.7"/><line x1="509.1" y1="189.2" x2="509.1" y2="192.5"/><line x1="512.2" y1="184.6" x2="512.2" y2="186.3"/><line x1="512.2" y1="187.1" x2="512.2" y2="192.1"/><line x1="515.3" y1="184.1" x2="515.3" y2="185.4"/><line x1="515.3" y1="192.1" x2="515.3" y2="195.9"/><line x1="518.4" y1="185" x2="518.4" y2="190.9"/><line x1="518.4" y1="191.7" x2="518.4" y2="192.9"/><line x1="521.5" y1="188" x2="521.5" y2="188.7"/><line x1="521.5" y1="198.8" x2="521.5" y2="204"/><line x1="524.6" y1="182.9" x2="524.6" y2="186.2"/><line x1="524.6" y1="198.4" x2="524.6" y2="200.7"/><line x1="527.7" y1="177.8" x2="527.7" y2="179.1"/><line x1="527.7" y1="184.6" x2="527.7" y2="185.3"/><line x1="530.8" y1="176.5" x2="530.8" y2="178.9"/><line x1="530.8" y1="180.3" x2="530.8" y2="182.9"/><line x1="533.9" y1="161.7" x2="533.9" y2="164.2"/><line x1="533.9" y1="179.2" x2="533.9" y2="180.7"/><line x1="537" y1="156.7" x2="537" y2="161.3"/><line x1="537" y1="164.3" x2="537" y2="166.8"/><line x1="540.1" y1="157.6" x2="540.1" y2="163"/><line x1="540.1" y1="163.8" x2="540.1" y2="167.6"/><line x1="543.2" y1="160" x2="543.2" y2="160.9"/><line x1="543.2" y1="163.4" x2="543.2" y2="167.6"/><line x1="546.3" y1="160.9" x2="546.3" y2="163.8"/><line x1="546.3" y1="173.7" x2="546.3" y2="176.9"/><line x1="549.4" y1="169.3" x2="549.4" y2="172.2"/><line x1="549.4" y1="178.9" x2="549.4" y2="179.5"/><line x1="552.5" y1="175.8" x2="552.5" y2="178.7"/><line x1="552.5" y1="181.8" x2="552.5" y2="183.4"/><line x1="555.6" y1="172.2" x2="555.6" y2="178.5"/><line x1="555.6" y1="181.8" x2="555.6" y2="183.5"/><line x1="558.7" y1="181.8" x2="558.7" y2="182.5"/><line x1="558.7" y1="184.1" x2="558.7" y2="194"/><line x1="561.8" y1="179.7" x2="561.8" y2="181.8"/><line x1="561.8" y1="186" x2="561.8" y2="186.6"/><line x1="564.9" y1="186.4" x2="564.9" y2="186.9"/><line x1="564.9" y1="194.6" x2="564.9" y2="195"/></g>
<g id="up" stroke="#000" stroke-width="0.52" fill="#fff"><rect x="-0.3" y="72.2" width="2" height="11"/><rect x="2.8" y="68.7" width="2" height="7.9"/><rect x="9" y="63" width="2" height="9.5"/><rect x="18.3" y="72.8" width="2" height="4.1"/><rect x="30.7" y="103.5" width="2" height="24"/><rect x="33.8" y="91.3" width="2" height="20.2"/><rect x="52.4" y="174.4" width="2" height="7.9"/><rect x="58.6" y="193.5" width="2" height="2.9"/><rect x="64.8" y="204.4" width="2" height="16"/><rect x="67.9" y="180.2" width="2" height="9.2"/><rect x="74.1" y="189" width="2" height="3.2"/><rect x="80.3" y="198.9" width="2" height="4.6"/><rect x="83.4" y="188.2" width="2" height="12"/><rect x="86.5" y="174.4" width="2" height="13"/><rect x="98.9" y="181.2" width="2" height="10.3"/><rect x="102" y="162.3" width="2" height="18.9"/><rect x="108.2" y="134.4" width="2" height="30"/><rect x="114.4" y="153.2" width="2" height="2.2"/><rect x="120.6" y="155" width="2" height="5"/><rect x="133" y="181.6" width="2" height="8.8"/><rect x="142.3" y="190.3" width="2" height="16.3"/><rect x="145.4" y="182.8" width="2" height="9.6"/><rect x="151.6" y="193" width="2" height="5.6"/><rect x="157.8" y="197.8" width="2" height="17.7"/><rect x="167.1" y="200" width="2" height="13"/><rect x="173.3" y="205" width="2" height="2.5"/><rect x="182.6" y="228.4" width="2" height="11.3"/><rect x="185.7" y="224.6" width="2" height="3.8"/><rect x="188.8" y="210" width="2" height="16.4"/><rect x="191.9" y="205.4" width="2" height="13.4"/><rect x="195" y="204.2" width="2" height="4.2"/><rect x="222.9" y="261.6" width="2" height="3.8"/><rect x="226" y="253.2" width="2" height="8.8"/><rect x="232.2" y="243" width="2" height="14.8"/><rect x="238.4" y="242.5" width="2" height="1.7"/><rect x="241.5" y="243.4" width="2" height="3.8"/><rect x="244.6" y="235.4" width="2" height="6.7"/><rect x="247.7" y="228.3" width="2" height="6.3"/><rect x="250.8" y="215.3" width="2" height="14.2"/><rect x="257" y="214.8" width="2" height="7.6"/><rect x="272.5" y="244.6" width="2" height="6.9"/><rect x="275.6" y="239.3" width="2" height="5.9"/><rect x="278.7" y="214.8" width="2" height="26.5"/><rect x="281.8" y="208" width="2" height="7.6"/><rect x="284.9" y="182.4" width="2" height="25.6"/><rect x="288" y="179.4" width="2" height="6.7"/><rect x="297.3" y="212.1" width="2" height="2.9"/><rect x="306.6" y="223.3" width="2" height="7.5"/><rect x="309.7" y="217" width="2" height="7.1"/><rect x="319" y="225" width="2" height="12"/><rect x="325.2" y="227.9" width="2" height="6.7"/><rect x="328.3" y="224.1" width="2" height="3.8"/><rect x="334.5" y="214.1" width="2" height="10.5"/><rect x="340.7" y="219.5" width="2" height="15.3"/><rect x="359.3" y="222.3" width="2" height="17.3"/><rect x="365.5" y="223.1" width="2" height="3.8"/><rect x="374.8" y="236.1" width="2" height="9.4"/><rect x="377.9" y="232.3" width="2" height="3.4"/><rect x="384.1" y="239.9" width="2" height="2.1"/><rect x="393.4" y="255.2" width="2" height="10.1"/><rect x="396.5" y="246.4" width="2" height="10.1"/><rect x="399.6" y="238.2" width="2" height="8.6"/><rect x="408.9" y="233.4" width="2" height="16.8"/><rect x="412" y="218" width="2" height="16.2"/><rect x="427.5" y="232.2" width="2" height="3.8"/><rect x="436.8" y="214.2" width="2" height="12.2"/><rect x="439.9" y="208.5" width="2" height="5"/><rect x="443" y="193.4" width="2" height="13.9"/><rect x="449.2" y="197.2" width="2" height="4.6"/><rect x="461.6" y="215.5" width="2" height="6.8"/><rect x="464.7" y="213.3" width="2" height="2.6"/><rect x="467.8" y="204" width="2" height="9.5"/><rect x="486.4" y="199.3" width="2" height="13"/><rect x="489.5" y="190.4" width="2" height="9.7"/><rect x="492.6" y="185.4" width="2" height="7.1"/><rect x="495.7" y="181.6" width="2" height="1.7"/><rect x="498.8" y="172.4" width="2" height="7.1"/><rect x="501.9" y="173.2" width="2" height="1.7"/><rect x="523.6" y="186.2" width="2" height="12.2"/><rect x="526.7" y="179.1" width="2" height="5.5"/><rect x="532.9" y="164.2" width="2" height="15"/><rect x="536" y="161.3" width="2" height="3"/></g>
<g id="down" stroke="#000" stroke-width="0.52" fill="#000"><rect x="5.9" y="69.3" width="2" height="3.5"/><rect x="12.1" y="60.2" width="2" height="11.3"/><rect x="15.2" y="71.2" width="2" height="5.7"/><rect x="21.4" y="71.5" width="2" height="0.8"/><rect x="24.5" y="72.2" width="2" height="14.1"/><rect x="27.6" y="97.6" width="2" height="30.7"/><rect x="36.9" y="90.5" width="2" height="12.1"/><rect x="40" y="102.2" width="2" height="4.8"/><rect x="43.1" y="103" width="2" height="49.9"/><rect x="46.2" y="163" width="2" height="19.7"/><rect x="49.3" y="180.2" width="2" height="5.5"/><rect x="55.5" y="175.6" width="2" height="20.8"/><rect x="61.7" y="209" width="2" height="11.5"/><rect x="71" y="183.6" width="2" height="13.2"/><rect x="77.2" y="184.8" width="2" height="22.5"/><rect x="89.6" y="174.8" width="2" height="2.7"/><rect x="92.7" y="182" width="2" height="2.6"/><rect x="95.8" y="183.3" width="2" height="14.5"/><rect x="105.1" y="163" width="2" height="5.3"/><rect x="111.3" y="136.1" width="2" height="19.6"/><rect x="117.5" y="154.3" width="2" height="5.2"/><rect x="123.7" y="161" width="2" height="9.7"/><rect x="126.8" y="169" width="2" height="10.5"/><rect x="129.9" y="181.6" width="2" height="8.9"/><rect x="136.1" y="182.4" width="2" height="20.9"/><rect x="139.2" y="203.3" width="2" height="2.5"/><rect x="148.5" y="170" width="2" height="25.9"/><rect x="154.7" y="196.2" width="2" height="17.2"/><rect x="160.9" y="201.2" width="2" height="9.7"/><rect x="164" y="210" width="2" height="2.1"/><rect x="170.2" y="202.5" width="2" height="3.8"/><rect x="176.4" y="207.5" width="2" height="8.8"/><rect x="179.5" y="219.7" width="2" height="15.4"/><rect x="198.1" y="212.1" width="2" height="2.6"/><rect x="201.2" y="207.9" width="2" height="14.3"/><rect x="204.3" y="225" width="2" height="7.6"/><rect x="207.4" y="232.2" width="2" height="7.5"/><rect x="210.5" y="244.3" width="2" height="4.5"/><rect x="213.6" y="247.1" width="2" height="2.9"/><rect x="216.7" y="251.2" width="2" height="11.3"/><rect x="219.8" y="262.9" width="2" height="2.9"/><rect x="229.1" y="255.9" width="2" height="0.8"/><rect x="235.3" y="244.6" width="2" height="3.1"/><rect x="253.9" y="216.9" width="2" height="7.6"/><rect x="260.1" y="218.3" width="2" height="1.3"/><rect x="263.2" y="221.1" width="2" height="13.9"/><rect x="266.3" y="235" width="2" height="12.5"/><rect x="269.4" y="245.2" width="2" height="6.3"/><rect x="291.1" y="179" width="2" height="34.5"/><rect x="294.2" y="213.5" width="2" height="0.8"/><rect x="300.4" y="212" width="2" height="13.2"/><rect x="303.5" y="225" width="2" height="0.8"/><rect x="312.8" y="216.6" width="2" height="12.6"/><rect x="315.9" y="230" width="2" height="6.2"/><rect x="322.1" y="225.8" width="2" height="8.8"/><rect x="331.4" y="223.3" width="2" height="2.1"/><rect x="337.6" y="214.9" width="2" height="23.3"/><rect x="343.8" y="219.1" width="2" height="5.5"/><rect x="346.9" y="224.1" width="2" height="2.1"/><rect x="350" y="227.1" width="2" height="6.7"/><rect x="353.1" y="233" width="2" height="1.7"/><rect x="356.2" y="235" width="2" height="2.7"/><rect x="362.4" y="220.6" width="2" height="5.9"/><rect x="368.6" y="224.4" width="2" height="12.5"/><rect x="371.7" y="233.6" width="2" height="11.1"/><rect x="381" y="235.3" width="2" height="7.2"/><rect x="387.2" y="238.9" width="2" height="7.9"/><rect x="390.3" y="246.8" width="2" height="18"/><rect x="402.7" y="237.4" width="2" height="10.2"/><rect x="405.8" y="247.2" width="2" height="3.4"/><rect x="415.1" y="217" width="2" height="8.2"/><rect x="418.2" y="226.4" width="2" height="5.8"/><rect x="421.3" y="231.8" width="2" height="3.4"/><rect x="424.4" y="233.9" width="2" height="2.9"/><rect x="430.6" y="233.9" width="2" height="2.9"/><rect x="433.7" y="226.8" width="2" height="1.2"/><rect x="446.1" y="193.8" width="2" height="13.5"/><rect x="452.3" y="196" width="2" height="5.8"/><rect x="455.4" y="201.4" width="2" height="11"/><rect x="458.5" y="211.6" width="2" height="8"/><rect x="470.9" y="203.8" width="2" height="2.4"/><rect x="474" y="205.1" width="2" height="0.8"/><rect x="477.1" y="205.1" width="2" height="0.8"/><rect x="480.2" y="205.5" width="2" height="3.4"/><rect x="483.3" y="209.5" width="2" height="1.5"/><rect x="505" y="176.2" width="2" height="9.6"/><rect x="508.1" y="183.7" width="2" height="5.5"/><rect x="511.2" y="186.3" width="2" height="0.8"/><rect x="514.3" y="185.4" width="2" height="6.7"/><rect x="517.4" y="190.9" width="2" height="0.8"/><rect x="520.5" y="188.7" width="2" height="10.1"/><rect x="529.8" y="178.9" width="2" height="1.4"/><rect x="539.1" y="163" width="2" height="0.8"/><rect x="542.2" y="160.9" width="2" height="2.5"/><rect x="545.3" y="163.8" width="2" height="9.9"/><rect x="548.4" y="172.2" width="2" height="6.7"/><rect x="551.5" y="178.7" width="2" height="3.1"/><rect x="554.6" y="178.5" width="2" height="3.3"/><rect x="557.7" y="182.5" width="2" height="1.6"/><rect x="560.8" y="181.8" width="2" height="4.2"/><rect x="563.9" y="186.9" width="2" height="7.7"/></g>
<g transform="translate(565.1,293.1)"><circle r="5.2" fill="#fff" stroke="#f4525f" stroke-width="1.1"/><g clip-path="url(#fl)"><rect x="-5" y="-5" width="10" height="10" fill="#fff"/><rect x="-5" y="-2.7" width="10" height="1.0" fill="#f25f68"/><rect x="-5" y="-0.5" width="10" height="1.3" fill="#f25f68"/><rect x="-5" y="2.3" width="10" height="1.6" fill="#f25f68"/><rect x="-5" y="-5" width="6" height="5.8" fill="#4a8df6"/></g></g>
<g transform="translate(571.6,293.1)"><circle r="5.2" fill="#fff" stroke="#f4525f" stroke-width="1.1"/><g clip-path="url(#fl)"><rect x="-5" y="-5" width="10" height="10" fill="#fff"/><rect x="-5" y="-2.7" width="10" height="1.0" fill="#f25f68"/><rect x="-5" y="-0.5" width="10" height="1.3" fill="#f25f68"/><rect x="-5" y="2.3" width="10" height="1.6" fill="#f25f68"/><rect x="-1.4" y="-5" width="2.7" height="5.8" fill="#4a8df6"/></g></g>
<rect x="736" y="0" width="32" height="429" fill="#fff"/>
<g stroke="#909198" stroke-width="1"><line x1="736.5" y1="0" x2="736.5" y2="429"/><line x1="0" y1="300.15" x2="768" y2="300.15"/><line x1="0" y1="414.7" x2="768" y2="414.7"/></g>
<text class="ax" x="741" y="18.68" textLength="21.4" lengthAdjust="spacingAndGlyphs">106.000</text>
<text class="ax" x="741" y="44.1" textLength="21.4" lengthAdjust="spacingAndGlyphs">105.000</text>
<text class="ax" x="741" y="69.52" textLength="21.4" lengthAdjust="spacingAndGlyphs">104.000</text>
<text class="ax" x="741" y="94.94" textLength="21.4" lengthAdjust="spacingAndGlyphs">103.000</text>
<text class="ax" x="741" y="120.36" textLength="21.4" lengthAdjust="spacingAndGlyphs">102.000</text>
<text class="ax" x="741" y="145.78" textLength="21.4" lengthAdjust="spacingAndGlyphs">101.000</text>
<text class="ax" x="741" y="171.2" textLength="21.4" lengthAdjust="spacingAndGlyphs">100.000</text>
<text class="ax" x="741" y="222.04" textLength="18.2" lengthAdjust="spacingAndGlyphs">98.000</text>
<text class="ax" x="741" y="247.46" textLength="18.2" lengthAdjust="spacingAndGlyphs">97.000</text>
<text class="ax" x="741" y="315.1" textLength="14.7" lengthAdjust="spacingAndGlyphs">70.00</text>
<text class="ax" x="741" y="334.83" textLength="14.7" lengthAdjust="spacingAndGlyphs">60.00</text>
<text class="ax" x="741" y="354.55" textLength="14.7" lengthAdjust="spacingAndGlyphs">50.00</text>
<text class="ax" x="741" y="374.28" textLength="14.7" lengthAdjust="spacingAndGlyphs">40.00</text>
<text class="ax" x="741" y="394" textLength="14.7" lengthAdjust="spacingAndGlyphs">30.00</text>
<text class="ax" x="741" y="413.73" textLength="14.7" lengthAdjust="spacingAndGlyphs">20.00</text>
<path d="M736 125.9 h28.3 a1.2 1.2 0 0 1 1.2 1.2 v6.4 a1.2 1.2 0 0 1 -1.2 1.2 h-28.3 z" fill="#f23645"/>
<text x="741" y="132.8" font-size="6.5" fill="#fff" stroke="#fff" stroke-width="0.1" textLength="21.4" lengthAdjust="spacingAndGlyphs">101.527</text>
<path d="M736 152.8 h28.3 a1.2 1.2 0 0 1 1.2 1.2 v6.4 a1.2 1.2 0 0 1 -1.2 1.2 h-28.3 z" fill="#f23645"/>
<text x="741" y="159.7" font-size="6.5" fill="#fff" stroke="#fff" stroke-width="0.1" textLength="21.4" lengthAdjust="spacingAndGlyphs">100.463</text>
<path d="M736 169.9 h25 a1.2 1.2 0 0 1 1.2 1.2 v6.4 a1.2 1.2 0 0 1 -1.2 1.2 h-25 z" fill="#4caf50"/>
<text x="741" y="176.8" font-size="6.5" fill="#fff" stroke="#fff" stroke-width="0.1" textLength="18.2" lengthAdjust="spacingAndGlyphs">99.791</text>
<path d="M736 178.5 h25 a1.2 1.2 0 0 1 1.2 1.2 v6.4 a1.2 1.2 0 0 1 -1.2 1.2 h-25 z" fill="#2962ff"/>
<text x="741" y="185.4" font-size="6.5" fill="#fff" stroke="#fff" stroke-width="0.1" textLength="18.2" lengthAdjust="spacingAndGlyphs">99.445</text>
<path d="M736 190 h25 a1.2 1.2 0 0 1 1.2 1.2 v6.4 a1.2 1.2 0 0 1 -1.2 1.2 h-25 z" fill="#555a67"/>
<text x="741" y="196.9" font-size="6.5" fill="#fff" stroke="#fff" stroke-width="0.1" textLength="18.2" lengthAdjust="spacingAndGlyphs">99.002</text>
<path d="M736 198.7 h25 a1.2 1.2 0 0 1 1.2 1.2 v6.4 a1.2 1.2 0 0 1 -1.2 1.2 h-25 z" fill="#f23645"/>
<text x="741" y="205.6" font-size="6.5" fill="#fff" stroke="#fff" stroke-width="0.1" textLength="18.2" lengthAdjust="spacingAndGlyphs">98.984</text>
<path d="M736 207.4 h25 a1.2 1.2 0 0 1 1.2 1.2 v6.4 a1.2 1.2 0 0 1 -1.2 1.2 h-25 z" fill="#4caf50"/>
<text x="741" y="214.3" font-size="6.5" fill="#fff" stroke="#fff" stroke-width="0.1" textLength="18.2" lengthAdjust="spacingAndGlyphs">98.617</text>
<path d="M736 223.1 h25 a1.2 1.2 0 0 1 1.2 1.2 v6.4 a1.2 1.2 0 0 1 -1.2 1.2 h-25 z" fill="#4caf50"/>
<text x="741" y="230" font-size="6.5" fill="#fff" stroke="#fff" stroke-width="0.1" textLength="18.2" lengthAdjust="spacingAndGlyphs">97.684</text>
<path d="M736 268.2 h25 a1.2 1.2 0 0 1 1.2 1.2 v6.4 a1.2 1.2 0 0 1 -1.2 1.2 h-25 z" fill="#4caf50"/>
<text x="741" y="275.1" font-size="6.5" fill="#fff" stroke="#fff" stroke-width="0.1" textLength="18.2" lengthAdjust="spacingAndGlyphs">95.918</text>
<path d="M736 289.9 h25 a1.2 1.2 0 0 1 1.2 1.2 v6.4 a1.2 1.2 0 0 1 -1.2 1.2 h-25 z" fill="#4caf50"/>
<text x="741" y="296.8" font-size="6.5" fill="#fff" stroke="#fff" stroke-width="0.1" textLength="18.2" lengthAdjust="spacingAndGlyphs">95.070</text>
<path d="M736 331.1 h21.8 a1.2 1.2 0 0 1 1.2 1.2 v6.4 a1.2 1.2 0 0 1 -1.2 1.2 h-21.8 z" fill="#fdd835"/>
<text x="741" y="338" font-size="6.5" fill="#131722" stroke="#131722" stroke-width="0.1" textLength="14.7" lengthAdjust="spacingAndGlyphs">58.32</text>
<path d="M736 361 h21.8 a1.2 1.2 0 0 1 1.2 1.2 v6.4 a1.2 1.2 0 0 1 -1.2 1.2 h-21.8 z" fill="#7e57c2"/>
<text x="741" y="367.9" font-size="6.5" fill="#fff" stroke="#fff" stroke-width="0.1" textLength="14.7" lengthAdjust="spacingAndGlyphs">43.37</text>
<rect x="737" y="0" width="31" height="17.1" fill="#fff"/>
<rect x="738.7" y="1.6" width="27" height="13.8" rx="2" fill="#fff" stroke="#e3e5ec" stroke-width="0.5"/>
<text x="742.7" y="11.9" font-size="7.3" fill="#131722" stroke="#131722" stroke-width="0.15" textLength="11.2" lengthAdjust="spacingAndGlyphs">USD</text>
<text class="tm" transform="translate(22.5 424) scale(0.84 1)" x="0" y="0" direction="rtl">أبريل</text>
<text class="tm" transform="translate(87.2 424) scale(0.84 1)" x="0" y="0" direction="rtl">مايو</text>
<text class="tm" transform="translate(155.5 424) scale(0.84 1)" x="0" y="0" direction="rtl">يونيو</text>
<text class="tm" transform="translate(220.7 424) scale(0.84 1)" x="0" y="0" direction="rtl">يوليو</text>
<text class="tm" transform="translate(292 424) scale(0.84 1)" x="0" y="0" direction="rtl">أغسطس</text>
<text class="tm" transform="translate(357 424) scale(0.84 1)" x="0" y="0" direction="rtl">سبتمبر</text>
<text class="tm" transform="translate(425.2 424) scale(0.84 1)" x="0" y="0" direction="rtl">أكتوبر</text>
<text class="tm" transform="translate(496.5 424) scale(0.84 1)" x="0" y="0" direction="rtl">نوفمبر</text>
<text class="tm" transform="translate(558.5 424) scale(0.84 1)" x="0" y="0" direction="rtl">ديسمبر</text>
<text class="tm" transform="translate(698 424) scale(0.84 1)" x="0" y="0" direction="rtl">فبراير</text>
<text x="630" y="424.4" font-size="6.4" font-weight="bold" fill="#131722" text-anchor="middle">2026</text>
<text y="11.9" font-size="7.6" fill="#131722" stroke="#131722" stroke-width="0.08"><tspan x="4.2" textLength="50.6" lengthAdjust="spacingAndGlyphs">US Dollar Index</tspan><tspan x="56.6" textLength="7.4" lengthAdjust="spacingAndGlyphs"> · 1</tspan><tspan x="64.6" font-size="6" textLength="7.4" lengthAdjust="spacingAndGlyphs">يوم</tspan><tspan x="71.7" font-size="7.6" textLength="49.5" lengthAdjust="spacingAndGlyphs"> · ThinkMarkets</tspan></text>
</svg></body></html>
